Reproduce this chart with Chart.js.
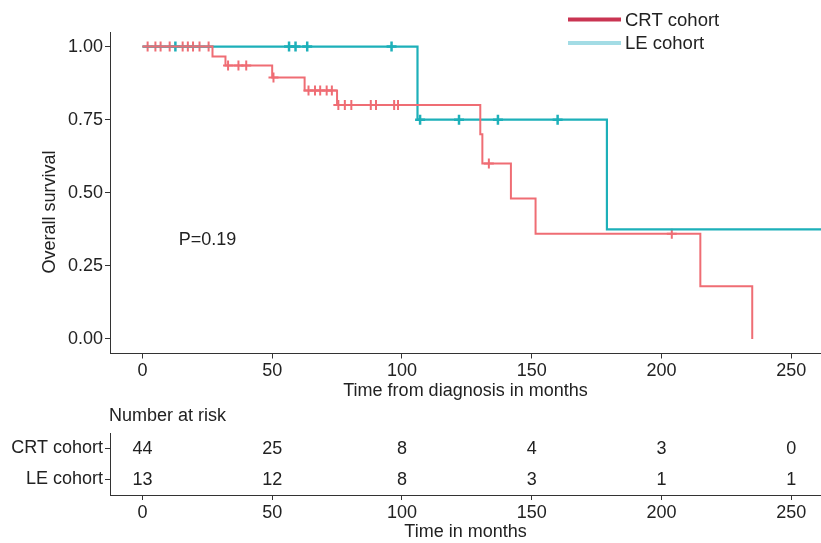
<!DOCTYPE html>
<html>
<head>
<meta charset="utf-8">
<script src="https://cdn.jsdelivr.net/npm/chart.js@4.4.1/dist/chart.umd.min.js"></script>
<style>
  body { margin: 0; background: #fff; }
  canvas { display: block; }
</style>
</head>
<body>
<canvas id="kmChart" width="821" height="402"></canvas>
<canvas id="riskChart" width="821" height="141"></canvas>
<script>
// cohorts and tick labels
const cohorts = ['CRT cohort', 'LE cohort'];
const xTicks = [0, 50, 100, 150, 200, 250];
const yTicks = [0, 0.25, 0.5, 0.75, 1];

// KM steps (time in months, survival after the event)
const crtTimes = [0, 27, 32, 50, 62.5, 75, 130.2, 131, 142, 151.5, 215, 235];
const crtSurv  = [1, 0.966, 0.935, 0.894, 0.85, 0.80, 0.70, 0.60, 0.48, 0.36, 0.18, 0];
const leTimes  = [0, 106, 179, 261.5];
const leSurv   = [1, 0.75, 0.375, 0.375];

// censored times
const crtCensor = [2, 5, 7, 10.5, 15.5, 17.5, 19.5, 22, 25.5, 33, 37, 40, 50.5,
                   64, 66.5, 68.5, 71, 73, 75.5, 78, 80.5, 88, 90, 97, 98.5, 133.5, 204];
const leCensor  = [12.7, 56.5, 59, 63.5, 96, 107, 122, 137, 160];

// number at risk
const riskTimes = [0, 50, 100, 150, 200, 250];
const crtRisk = [44, 25, 8, 4, 3, 0];
const leRisk  = [13, 12, 8, 3, 1, 1];

const pLabel = 'P=0.19';
const yTitle = 'Overall survival';

const crtColor = '#EF6D74';
const leColor = '#1DB0B9';
const axisColor = '#333';
const fontFamily = "'Liberation Sans', Arial, sans-serif";

Chart.defaults.font.family = fontFamily;
Chart.defaults.font.size = 18;
Chart.defaults.color = '#222';

function survAt(times, surv, t) {
    let s = surv[0];
    for (let i = 0; i < times.length; i++) {
        if (times[i] <= t) s = surv[i];
    }
    return s;
}

function xAxis(title) {
    return {
        type: 'linear',
        min: -12.5,
        max: 261.5,
        afterBuildTicks: s => { s.ticks = xTicks.map(v => ({ value: v })); },
        grid: { drawOnChartArea: false, drawTicks: true, tickLength: 5, color: axisColor },
        border: { display: true, color: axisColor, width: 1 },
        ticks: { padding: 2, color: '#222', maxRotation: 0 },
        title: { display: true, text: title, color: '#222', padding: 0 }
    };
}

const kmExtras = {
    id: 'kmExtras',
    afterDraw(chart) {
        const { ctx, scales: { x, y } } = chart;
        ctx.save();
        ctx.fillStyle = '#222';
        ctx.textBaseline = 'middle';
        ctx.font = '18px ' + fontFamily;
        ctx.fillText(pLabel, x.getPixelForValue(14), y.getPixelForValue(0.337));

        // y axis title
        ctx.save();
        ctx.translate(50, 212);
        ctx.rotate(-Math.PI / 2);
        ctx.textAlign = 'center';
        ctx.fillText(yTitle, 0, 0);
        ctx.restore();

        // legend
        const items = [
            { label: cohorts[0], color: '#C93452' },
            { label: cohorts[1], color: '#A3DCE5' }
        ];
        ctx.font = '18.5px ' + fontFamily;
        items.forEach((it, i) => {
            const ly = 19.5 + i * 23.5;
            ctx.strokeStyle = it.color;
            ctx.lineWidth = 4;
            ctx.beginPath();
            ctx.moveTo(568, ly);
            ctx.lineTo(621, ly);
            ctx.stroke();
            ctx.fillText(it.label, 625, ly + 1);
        });
        ctx.restore();
    }
};

new Chart(document.getElementById('kmChart').getContext('2d'), {
    type: 'scatter',
    data: {
        datasets: [
            {
                label: cohorts[0],
                data: crtTimes.map((t, i) => ({ x: t, y: crtSurv[i] })),
                showLine: true, stepped: true,
                borderColor: crtColor, borderWidth: 2, pointRadius: 0
            },
            {
                label: cohorts[1],
                data: leTimes.map((t, i) => ({ x: t, y: leSurv[i] })),
                showLine: true, stepped: true,
                borderColor: leColor, borderWidth: 2.2, pointRadius: 0
            },
            {
                label: 'CRT censored',
                data: crtCensor.map(t => ({ x: t, y: survAt(crtTimes, crtSurv, t) })),
                pointStyle: 'cross', pointRadius: 5, borderWidth: 2,
                borderColor: crtColor, backgroundColor: crtColor
            },
            {
                label: 'LE censored',
                data: leCensor.map(t => ({ x: t, y: survAt(leTimes, leSurv, t) })),
                pointStyle: 'cross', pointRadius: 5, borderWidth: 2.5,
                borderColor: leColor, backgroundColor: leColor
            }
        ]
    },
    options: {
        responsive: false,
        animation: false,
        layout: { autoPadding: false, padding: { top: 32, left: 0, right: 0, bottom: 0 } },
        plugins: { legend: { display: false }, tooltip: { enabled: false } },
        scales: {
            x: Object.assign(xAxis('Time from diagnosis in months'), {
                afterFit: s => { s.height = 48.5; }
            }),
            y: {
                type: 'linear',
                min: -0.05,
                max: 1.05,
                afterBuildTicks: s => { s.ticks = yTicks.map(v => ({ value: v })); },
                afterFit: s => { s.width = 110; },
                grid: { drawOnChartArea: false, drawTicks: true, tickLength: 5, color: axisColor },
                border: { display: true, color: axisColor, width: 1 },
                ticks: { padding: 2, color: '#222', callback: v => Number(v).toFixed(2) }
            }
        }
    },
    plugins: [kmExtras]
});

const riskLabels = {
    id: 'riskLabels',
    afterDatasetsDraw(chart) {
        const { ctx, chartArea } = chart;
        ctx.save();
        ctx.fillStyle = '#222';
        ctx.font = '18px ' + fontFamily;
        ctx.textBaseline = 'middle';
        ctx.fillText('Number at risk', chartArea.left - 1, 14);
        ctx.textAlign = 'center';
        chart.data.datasets.forEach((ds, di) => {
            chart.getDatasetMeta(di).data.forEach((el, i) => {
                ctx.fillText(String(ds.counts[i]), el.x, el.y + 1);
            });
        });
        ctx.restore();
    }
};

new Chart(document.getElementById('riskChart').getContext('2d'), {
    type: 'scatter',
    data: {
        datasets: [
            { label: cohorts[0], counts: crtRisk, data: riskTimes.map(t => ({ x: t, y: cohorts[0] })), pointRadius: 0 },
            { label: cohorts[1], counts: leRisk, data: riskTimes.map(t => ({ x: t, y: cohorts[1] })), pointRadius: 0 }
        ]
    },
    options: {
        responsive: false,
        animation: false,
        layout: { autoPadding: false, padding: { top: 31, left: 0, right: 0, bottom: 0 } },
        plugins: { legend: { display: false }, tooltip: { enabled: false } },
        scales: {
            x: Object.assign(xAxis('Time in months'), {
                afterFit: s => { s.height = 48; }
            }),
            y: {
                type: 'category',
                labels: cohorts,
                offset: true,
                afterFit: s => { s.width = 110; },
                grid: { drawOnChartArea: false, drawTicks: true, tickLength: 5, color: axisColor, offset: false },
                border: { display: true, color: axisColor, width: 1 },
                ticks: { padding: 2, color: '#222' }
            }
        }
    },
    plugins: [riskLabels]
});
</script>
</body>
</html>
